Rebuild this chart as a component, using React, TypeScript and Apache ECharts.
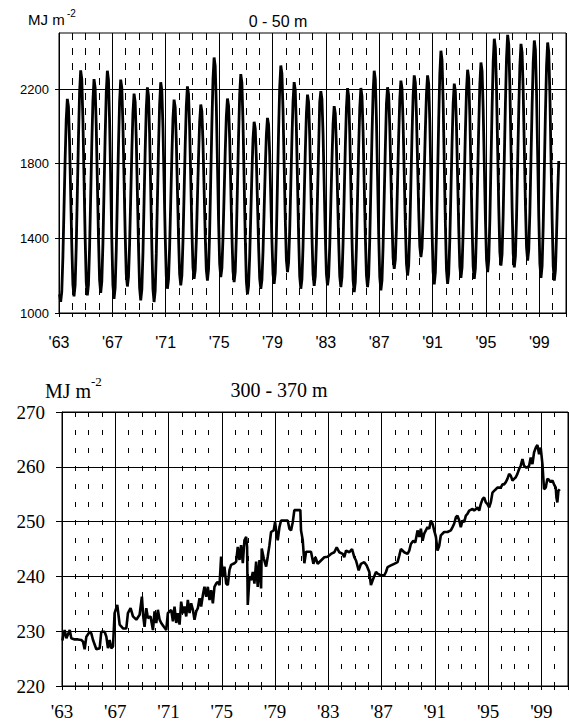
import React, { useEffect, useRef } from "react";
import * as echarts from "echarts";

// ---------- data ----------
const firstYear = 1963;
const lastYear = 2001;

// Upper layer (0 - 50 m), monthly values (Jan..Dec) per year, MJ m-2
const upperMonthly: number[][] = [
  [1100, 1060, 1114, 1299, 1560, 1821, 2038, 2147, 2105, 1914, 1639, 1364], // 1963
  [1152, 1089, 1150, 1355, 1646, 1937, 2179, 2300, 2252, 2035, 1721, 1408], // 1964
  [1166, 1094, 1152, 1349, 1627, 1905, 2137, 2253, 2207, 2001, 1703, 1406], // 1965
  [1177, 1108, 1168, 1370, 1655, 1941, 2179, 2298, 2249, 2029, 1711, 1394], // 1966
  [1149, 1076, 1135, 1334, 1616, 1898, 2133, 2250, 2206, 2006, 1718, 1430], // 1967
  [1208, 1142, 1194, 1369, 1617, 1865, 2072, 2175, 2131, 1931, 1644, 1356], // 1968
  [1134, 1068, 1125, 1319, 1593, 1867, 2095, 2209, 2163, 1956, 1657, 1358], // 1969
  [1128, 1059, 1118, 1318, 1600, 1883, 2118, 2236, 2192, 1993, 1705, 1418], // 1970
  [1196, 1130, 1181, 1353, 1596, 1839, 2042, 2143, 2103, 1924, 1665, 1407], // 1971
  [1208, 1148, 1201, 1383, 1638, 1894, 2107, 2214, 2173, 1987, 1719, 1451], // 1972
  [1245, 1183, 1230, 1388, 1613, 1837, 2024, 2117, 2079, 1910, 1664, 1419], // 1973
  [1231, 1174, 1234, 1437, 1724, 2011, 2250, 2369, 2322, 2110, 1804, 1498], // 1974
  [1263, 1192, 1240, 1403, 1632, 1862, 2053, 2149, 2110, 1933, 1677, 1421], // 1975
  [1224, 1165, 1221, 1410, 1678, 1946, 2169, 2280, 2233, 2020, 1714, 1407], // 1976
  [1171, 1100, 1146, 1303, 1525, 1747, 1932, 2024, 1988, 1827, 1595, 1362], // 1977
  [1184, 1130, 1176, 1331, 1551, 1771, 1954, 2045, 2009, 1849, 1618, 1387], // 1978
  [1209, 1156, 1215, 1413, 1694, 1975, 2209, 2326, 2282, 2082, 1795, 1507], // 1979
  [1285, 1219, 1270, 1443, 1687, 1932, 2135, 2237, 2193, 1993, 1706, 1418], // 1980
  [1196, 1130, 1182, 1359, 1608, 1858, 2066, 2170, 2129, 1945, 1678, 1412], // 1981
  [1207, 1145, 1197, 1374, 1625, 1875, 2130, 2188, 2146, 1959, 1689, 1418], // 1982
  [1210, 1148, 1196, 1359, 1590, 1820, 2012, 2108, 2069, 1895, 1643, 1391], // 1983
  [1197, 1139, 1192, 1374, 1629, 1885, 2098, 2205, 2161, 1965, 1680, 1396], // 1984
  [1178, 1112, 1167, 1352, 1615, 1877, 2096, 2205, 2162, 1970, 1693, 1416], // 1985
  [1203, 1139, 1197, 1394, 1672, 1950, 2182, 2298, 2251, 2039, 1733, 1427], // 1986
  [1192, 1121, 1175, 1360, 1621, 1883, 2120, 2209, 2170, 1995, 1742, 1489], // 1987
  [1294, 1236, 1286, 1458, 1700, 1942, 2144, 2245, 2203, 2015, 1744, 1472], // 1988
  [1264, 1201, 1255, 1437, 1694, 1951, 2166, 2273, 2234, 2059, 1805, 1552], // 1989
  [1357, 1299, 1348, 1513, 1747, 1981, 2176, 2273, 2228, 2027, 1735, 1444], // 1990
  [1220, 1153, 1216, 1428, 1729, 2029, 2280, 2405, 2355, 2130, 1805, 1481], // 1991
  [1231, 1156, 1210, 1392, 1650, 1907, 2122, 2229, 2187, 2000, 1729, 1459], // 1992
  [1250, 1188, 1244, 1433, 1701, 1969, 2192, 2303, 2258, 2057, 1765, 1474], // 1993
  [1250, 1183, 1241, 1438, 1716, 1994, 2226, 2342, 2297, 2095, 1803, 1511], // 1994
  [1286, 1219, 1282, 1494, 1794, 2094, 2344, 2469, 2420, 2202, 1886, 1570], // 1995
  [1327, 1254, 1316, 1526, 1823, 2119, 2366, 2490, 2440, 2216, 1892, 1569], // 1996
  [1320, 1245, 1305, 1508, 1796, 2083, 2322, 2442, 2396, 2187, 1885, 1583], // 1997
  [1351, 1281, 1340, 1540, 1823, 2106, 2342, 2460, 2409, 2180, 1849, 1519], // 1998
  [1264, 1188, 1251, 1465, 1768, 2071, 2323, 2449, 2398, 2169, 1837, 1506], // 1999
  [1251, 1174, 1230, 1420, 1640, 1814], // 2000
];

// Deep layer (300 - 370 m): [decimal year, MJ m-2]
const deepTrace: [number, number][] = [
  [1963.03, 228.3], [1963.08, 229.0], [1963.2, 230.2], [1963.33, 228.7], [1963.58, 230.2],
  [1963.7, 228.7], [1963.95, 228.5], [1964.2, 228.5], [1964.45, 228.4], [1964.58, 228.1],
  [1964.7, 226.7], [1964.83, 229.0], [1965.08, 229.9], [1965.2, 229.6], [1965.33, 228.4],
  [1965.58, 226.7], [1965.83, 226.9], [1965.95, 229.9], [1966.2, 229.9], [1966.33, 229.0],
  [1966.45, 226.9], [1966.58, 228.4], [1966.7, 226.9], [1966.83, 227.2], [1966.95, 233.3],
  [1967.15, 234.8], [1967.33, 231.2], [1967.58, 230.5], [1967.83, 230.5], [1967.95, 233.3],
  [1968.15, 234.2], [1968.33, 232.7], [1968.58, 232.1], [1968.83, 233.0], [1969.0, 236.3],
  [1969.1, 232.7], [1969.2, 230.8], [1969.33, 234.2], [1969.45, 232.4], [1969.65, 232.7],
  [1969.83, 230.2], [1969.95, 233.6], [1970.08, 231.5], [1970.2, 233.9], [1970.33, 232.1],
  [1970.45, 231.5], [1970.65, 230.8], [1970.83, 230.2], [1970.95, 233.3], [1971.2, 233.9],
  [1971.33, 231.8], [1971.45, 234.5], [1971.58, 231.5], [1971.7, 233.3], [1971.83, 231.2],
  [1971.95, 235.4], [1972.08, 233.3], [1972.2, 234.5], [1972.33, 232.7], [1972.45, 235.7],
  [1972.58, 233.3], [1972.7, 235.1], [1972.83, 233.9], [1972.95, 232.1], [1973.08, 233.6],
  [1973.2, 234.2], [1973.33, 236.0], [1973.45, 234.5], [1973.58, 236.6], [1973.7, 238.1],
  [1973.83, 236.3], [1973.95, 238.1], [1974.08, 235.7], [1974.2, 237.5], [1974.33, 235.1],
  [1974.45, 238.1], [1974.58, 238.7], [1974.7, 239.0], [1974.83, 238.4], [1974.95, 243.6],
  [1975.08, 239.9], [1975.2, 241.8], [1975.33, 238.7], [1975.45, 238.4], [1975.58, 241.2],
  [1975.7, 242.1], [1975.95, 242.4], [1976.08, 242.7], [1976.2, 245.4], [1976.33, 243.0],
  [1976.45, 245.7], [1976.58, 242.4], [1976.7, 246.6], [1976.83, 247.2], [1976.9, 245.4],
  [1976.95, 234.8], [1977.08, 239.9], [1977.2, 239.3], [1977.33, 240.8], [1977.45, 238.7],
  [1977.58, 242.7], [1977.7, 238.1], [1977.83, 243.0], [1977.95, 237.8], [1978.0, 245.1],
  [1978.15, 243.3], [1978.33, 241.8], [1978.45, 243.6], [1978.58, 245.7], [1978.7, 248.1],
  [1978.9, 248.4], [1979.0, 249.9], [1979.08, 248.4], [1979.2, 246.6], [1979.33, 249.0],
  [1979.45, 250.2], [1979.7, 250.2], [1979.95, 250.2], [1980.08, 248.7], [1980.2, 248.4],
  [1980.33, 249.9], [1980.45, 252.1], [1980.7, 252.1], [1980.9, 252.1], [1980.95, 248.4],
  [1981.08, 246.6], [1981.2, 242.4], [1981.33, 244.5], [1981.45, 244.5], [1981.7, 244.5],
  [1981.88, 242.3], [1982.03, 243.5], [1982.2, 242.3], [1982.45, 242.9], [1982.7, 243.5],
  [1982.95, 243.6], [1983.2, 244.1], [1983.45, 244.4], [1983.63, 245.3], [1983.83, 244.4],
  [1984.08, 244.1], [1984.2, 243.5], [1984.33, 244.7], [1984.58, 244.4], [1984.78, 245.0],
  [1984.95, 243.5], [1985.08, 242.9], [1985.28, 241.1], [1985.45, 242.3], [1985.7, 242.6],
  [1985.88, 242.0], [1986.08, 240.8], [1986.2, 238.4], [1986.33, 239.3], [1986.58, 240.8],
  [1986.7, 240.5], [1986.95, 240.2], [1987.2, 240.2], [1987.33, 240.8], [1987.45, 241.7],
  [1987.7, 242.0], [1987.95, 242.3], [1988.2, 242.6], [1988.33, 243.8], [1988.45, 245.0],
  [1988.7, 244.4], [1988.95, 244.1], [1989.08, 244.7], [1989.2, 245.9], [1989.38, 246.5],
  [1989.53, 246.2], [1989.7, 248.4], [1989.83, 247.2], [1989.95, 248.7], [1990.08, 246.5],
  [1990.2, 247.8], [1990.45, 249.0], [1990.58, 248.7], [1990.7, 250.2], [1990.83, 249.6],
  [1990.95, 248.4], [1991.08, 247.2], [1991.2, 244.7], [1991.33, 245.6], [1991.45, 247.5],
  [1991.7, 248.1], [1991.95, 248.1], [1992.2, 248.4], [1992.33, 249.0], [1992.45, 249.6],
  [1992.58, 250.8], [1992.7, 251.1], [1992.83, 250.2], [1992.95, 249.0], [1993.08, 250.2],
  [1993.2, 249.9], [1993.33, 251.1], [1993.45, 251.4], [1993.58, 252.0], [1993.83, 252.3],
  [1993.95, 252.0], [1994.08, 252.3], [1994.2, 252.6], [1994.33, 252.0], [1994.45, 253.2],
  [1994.58, 254.1], [1994.7, 254.4], [1994.83, 253.5], [1994.95, 253.2], [1995.08, 252.6],
  [1995.2, 253.5], [1995.33, 255.3], [1995.45, 255.6], [1995.58, 255.9], [1995.7, 256.2],
  [1995.95, 256.2], [1996.08, 256.8], [1996.2, 256.8], [1996.33, 257.2], [1996.45, 257.8],
  [1996.58, 258.7], [1996.7, 258.4], [1996.83, 257.5], [1996.95, 257.8], [1997.08, 258.1],
  [1997.2, 258.7], [1997.33, 259.6], [1997.45, 260.2], [1997.58, 261.4], [1997.7, 260.2],
  [1997.83, 259.9], [1997.95, 259.9], [1998.08, 260.2], [1998.2, 261.7], [1998.33, 260.5],
  [1998.45, 262.6], [1998.58, 263.5], [1998.7, 264.0], [1998.83, 262.3], [1998.95, 263.5],
  [1999.08, 260.5], [1999.2, 255.9], [1999.33, 256.2], [1999.45, 257.8], [1999.58, 257.6],
  [1999.7, 257.2], [1999.83, 257.5], [1999.95, 256.8], [2000.08, 256.2], [2000.13, 254.4],
  [2000.2, 253.5], [2000.28, 255.6], [2000.38, 255.9],
];

const upperYTicks = [1000, 1400, 1800, 2200];
const deepYRange = [220, 270];
const upperYRange = [1000, 2500];

// ---------- component ----------
const SANS = "'Liberation Sans', Arial, Helvetica, sans-serif";
const SERIF = "'Liberation Serif', 'Times New Roman', Times, serif";

function yearLabel(v: number) {
  if (v >= lastYear) return "";
  return "'" + String(Math.round(v)).slice(2);
}

export default function App() {
  const ref = useRef<HTMLDivElement>(null);

  useEffect(() => {
    if (!ref.current) return;
    const chart = echarts.init(ref.current, null, { renderer: "svg" });

    const upperData: [number, number][] = [];
    upperMonthly.forEach((row, i) => {
      row.forEach((v, m) => {
        upperData.push([firstYear + i + (m + 0.5) / 12, v]);
      });
    });

    const majorX = (gridIndex: number, font: string, size: number, margin: number) => ({
      type: "value",
      gridIndex,
      position: "bottom",
      min: firstYear,
      max: lastYear,
      interval: 4,
      axisLine: { show: true, onZero: false, lineStyle: { color: "#000", width: 1 } },
      axisTick: { show: true, length: 4, lineStyle: { color: "#000", width: 1 } },
      axisLabel: {
        show: true,
        formatter: yearLabel,
        showMaxLabel: false,
        color: "#000",
        fontFamily: font,
        fontSize: size,
        margin,
      },
      splitLine: { show: true, lineStyle: { color: "#000", width: 1 } },
    });

    const minorX = (gridIndex: number, dash: number[]) => ({
      type: "value",
      gridIndex,
      position: "bottom",
      min: firstYear,
      max: lastYear,
      interval: 1,
      axisLine: { show: false, onZero: false },
      axisTick: { show: true, length: 4, lineStyle: { color: "#000", width: 1 } },
      axisLabel: { show: false },
      splitLine: { show: true, lineStyle: { color: "#000", width: 1, type: dash } },
    });

    const option: any = {
      animation: false,
      backgroundColor: "#fff",
      grid: [
        { left: 59, top: 33, width: 507, height: 280, show: true, borderColor: "#000", borderWidth: 1, backgroundColor: "transparent" },
        { left: 62, top: 412, width: 506, height: 274, show: true, borderColor: "#000", borderWidth: 1, backgroundColor: "transparent" },
      ],
      xAxis: [
        minorX(0, [7, 8]),
        majorX(0, SANS, 16, 21),
        minorX(1, [5, 13]),
        majorX(1, SERIF, 19, 16),
      ],
      yAxis: [
        {
          type: "value",
          gridIndex: 0,
          min: upperYRange[0],
          max: upperYRange[1],
          interval: 400,
          axisLine: { show: true, onZero: false, lineStyle: { color: "#000", width: 1 } },
          axisTick: { show: true, length: 4, lineStyle: { color: "#000" }, customValues: upperYTicks },
          axisLabel: {
            color: "#000",
            fontFamily: SANS,
            fontSize: 13,
            margin: 10,
            showMaxLabel: false,
            formatter: (v: number) => String(v),
          },
          splitLine: { show: true, lineStyle: { color: "#000", width: 1 } },
        },
        {
          type: "value",
          gridIndex: 1,
          min: deepYRange[0],
          max: deepYRange[1],
          interval: 10,
          axisLine: { show: true, onZero: false, lineStyle: { color: "#000", width: 1 } },
          axisTick: { show: true, length: 6, lineStyle: { color: "#000" } },
          axisLabel: { color: "#000", fontFamily: SERIF, fontSize: 19, margin: 17, formatter: (v: number) => String(v) },
          splitLine: { show: true, lineStyle: { color: "#000", width: 1 } },
        },
      ],
      series: [
        {
          type: "line",
          xAxisIndex: 1,
          yAxisIndex: 0,
          data: upperData,
          showSymbol: false,
          symbol: "none",
          lineStyle: { color: "#000", width: 2.8 },
          clip: true,
          z: 5,
        },
        {
          type: "line",
          xAxisIndex: 3,
          yAxisIndex: 1,
          data: deepTrace,
          showSymbol: false,
          symbol: "none",
          lineStyle: { color: "#000", width: 2.6 },
          clip: true,
          z: 5,
        },
      ],
      graphic: [
        { type: "text", left: 28, top: 12, style: { text: "MJ m", font: `15px ${SANS}`, fill: "#000" } },
        { type: "text", left: 67, top: 8, style: { text: "-2", font: `10px ${SANS}`, fill: "#000" } },
        { type: "text", x: 278, y: 21, style: { text: "0 - 50 m", font: `16px ${SANS}`, fill: "#000", textAlign: "center", textVerticalAlign: "middle" } },
        { type: "text", left: 45, top: 381, style: { text: "MJ m", font: `20px ${SERIF}`, fill: "#000" } },
        { type: "text", left: 91, top: 375, style: { text: "-2", font: `13px ${SERIF}`, fill: "#000" } },
        { type: "text", x: 279, y: 390, style: { text: "300 - 370 m", font: `20px ${SERIF}`, fill: "#000", textAlign: "center", textVerticalAlign: "middle" } },
      ],
    };

    chart.setOption(option);
    return () => chart.dispose();
  }, []);

  return (
    <div
      ref={ref}
      style={{ position: "absolute", left: 0, top: 0, width: 570, height: 728, background: "#fff" }}
    />
  );
}
